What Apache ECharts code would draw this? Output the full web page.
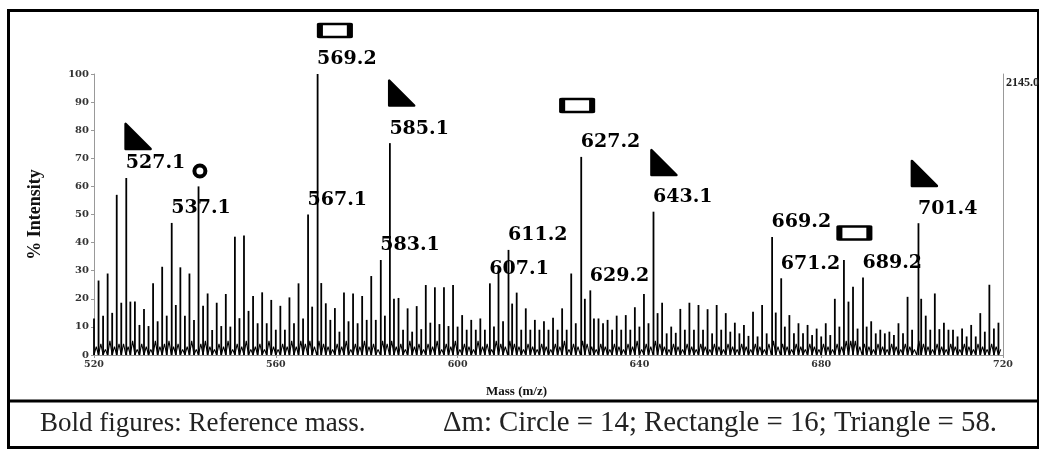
<!DOCTYPE html>
<html>
<head>
<meta charset="utf-8">
<script src="https://cdn.jsdelivr.net/npm/echarts@6/dist/echarts.min.js"></script>
<style>
  html, body { margin: 0; padding: 0; background: #fff; }
  #main { width: 1039px; height: 449px; }
</style>
</head>
<body>
<div id="main"></div>
<script>
// spectrum: one main peak per mass unit, starting at 520
const massStart = 520;
const intensity = [
  13, 26.5, 14, 29, 15, 57, 18.6, 63, 19, 19, 10.7, 16.4, 10.3, 25.5, 12, 31.4, 14, 47, 17.8, 31.2,
  14, 29, 12.5, 60, 17.5, 21.9, 8.9, 18.6, 10.3, 21.7, 10.1, 42.1, 13.1, 42.5, 15.7, 21, 11.3, 22.3, 11.3, 19.6,
  9, 17.5, 9, 20.5, 11.3, 25.5, 13, 50, 17.2, 100, 25.6, 18.4, 12.5, 16.7, 8.3, 22.2, 12, 21.9, 11.3, 21,
  12.5, 28.1, 12.5, 33.8, 14, 75.4, 20, 20.3, 9, 16.6, 8.3, 17.4, 9.2, 24.9, 11.5, 24.1, 11, 24.1, 10.3, 24.9,
  10.1, 14.2, 9, 12.5, 9, 13, 9, 25.5, 10.1, 30, 12, 37.4, 18.3, 22.2, 9, 16.6, 9, 12.5, 9, 12,
  9, 13.3, 9, 16.6, 9, 29, 11.3, 70.5, 20, 23, 13, 13, 11.3, 12.5, 9, 14, 9, 14.2, 9, 17,
  10.1, 21.7, 11.3, 51, 14.9, 18.6, 7.7, 10.1, 7.9, 16.4, 9, 18.6, 9, 17.8, 9, 16.3, 7.7, 17.8, 9, 14.9,
  8.3, 11.5, 7.7, 10.7, 6.8, 15.4, 6.6, 17.8, 7.7, 42, 15.1, 27.3, 10.1, 14.2, 7.7, 11.3, 7.7, 10.7, 7.1, 9.4,
  6.6, 11.3, 7.1, 20, 10.1, 33.8, 19, 24.3, 9.4, 27.6, 10.1, 12, 7.7, 9, 7.7, 8.3, 7.1, 11.3, 7.7, 20.7,
  9, 46.9, 20, 14, 9, 21.9, 9.2, 11.5, 9, 9, 6.6, 9.4, 6.6, 10.7, 6.6, 14.9, 8.3, 25, 9.4, 11.5
];
// small noise peaks between the main ones (at mass + 0.5)
const noise = [
  3, 4, 2, 5, 3, 4, 4, 3, 5, 2, 4, 3, 2, 5, 3, 4, 5, 3, 4, 2,
  3, 5, 2, 4, 5, 3, 2, 4, 3, 5, 2, 4, 3, 5, 2, 3, 4, 2, 5, 3,
  2, 4, 3, 5, 3, 5, 4, 5, 3, 5, 4, 3, 2, 4, 3, 5, 2, 4, 3, 5,
  3, 4, 2, 5, 4, 5, 3, 4, 2, 5, 3, 4, 2, 4, 3, 5, 2, 4, 3, 5,
  2, 4, 3, 2, 5, 3, 4, 2, 5, 4, 3, 5, 4, 3, 2, 4, 3, 2, 4, 3,
  2, 4, 3, 5, 2, 4, 3, 5, 4, 3, 2, 4, 3, 2, 4, 3, 2, 4, 3, 5,
  2, 4, 3, 5, 4, 3, 2, 4, 3, 2, 4, 3, 2, 4, 3, 2, 4, 3, 2, 4,
  3, 2, 4, 3, 2, 4, 3, 2, 4, 5, 3, 4, 3, 2, 4, 3, 2, 4, 3, 2,
  4, 3, 2, 4, 3, 5, 5, 5, 3, 4, 3, 2, 4, 3, 2, 4, 3, 2, 4, 3,
  2, 5, 4, 3, 2, 4, 3, 2, 4, 3, 2, 4, 3, 2, 4, 3, 2, 4, 3, 2
];
// reference masses printed in bold
const refMass = [527.1, 537.1, 567.1, 569.2, 583.1, 585.1, 607.1, 611.2, 627.2, 629.2, 643.1, 669.2, 671.2, 689.2, 701.4];
const refInt = [63, 47, 50, 100, 33.8, 75.4, 25.5, 37.4, 70.5, 23, 51, 42, 27.3, 27.6, 46.9];
// annotation markers (mass, % intensity)
const triMass = [529.7, 587.7, 645.4, 702.7];
const triInt = [77.8, 93.2, 68.5, 64.6];
const rectMass = [573.0, 626.3, 687.3];
const rectInt = [115.5, 88.8, 43.4];
const circleMass = [543.3];
const circleInt = [65.5];
const xTicks = [520, 560, 600, 640, 680, 720];

var sticks = [];
var floor = [];
for (var i = 0; i < intensity.length; i++) {
  var m = massStart + i;
  for (var k = 0; k < refMass.length; k++) {
    if (Math.round(refMass[k]) === m) m = refMass[k];
  }
  sticks.push([m, intensity[i]]);
  // baseline zig-zag: back to zero at each stick, small noise in between
  floor.push([massStart + i, 0]);
  floor.push([massStart + i + 0.5, noise[i]]);
}

var pairs = function (xs, ys) { return xs.map(function (x, j) { return [x, ys[j]]; }); };

var chart = echarts.init(document.getElementById('main'));
var serif = '"Liberation Serif", "Times New Roman", serif';

var option = {
  animation: false,
  backgroundColor: '#fff',
  grid: { left: 94, right: 36, top: 74, bottom: 94, containLabel: false },
  xAxis: {
    type: 'value', min: xTicks[0], max: xTicks[xTicks.length - 1], interval: 40,
    name: 'Mass (m/z)', nameLocation: 'middle', nameGap: 30,
    nameTextStyle: { fontFamily: serif, fontWeight: 'bold', fontSize: 13, color: '#111', padding: [0, 64, 0, 0] },
    axisLine: { lineStyle: { color: '#999', width: 1 } },
    axisTick: { length: 3, lineStyle: { color: '#999' } },
    axisLabel: { fontFamily: '"DejaVu Serif", serif', fontWeight: 'bold', fontSize: 9.5, color: '#333', margin: 5 },
    splitLine: { show: false }
  },
  yAxis: [{
    type: 'value', min: 0, max: 100, interval: 10,
    name: '% Intensity', nameLocation: 'middle', nameGap: 50,
    nameTextStyle: { fontFamily: serif, fontWeight: 'bold', fontSize: 18, color: '#111' },
    axisLine: { show: true, lineStyle: { color: '#999', width: 1 } },
    axisTick: { show: true, length: 3, lineStyle: { color: '#999' } },
    axisLabel: { fontFamily: '"DejaVu Serif", serif', fontWeight: 'bold', fontSize: 10, color: '#333', margin: 5 },
    splitLine: { show: false }
  }, {
    type: 'value', min: 0, max: 100, position: 'right',
    axisLine: { show: true, lineStyle: { color: '#999', width: 1 } },
    axisTick: { show: false }, axisLabel: { show: false }, splitLine: { show: false }
  }],
  series: [
    {
      name: 'floor', type: 'line', data: floor, symbol: 'none',
      lineStyle: { color: '#000', width: 1.1 }, z: 2
    },
    {
      name: 'peaks', type: 'bar', data: sticks, barWidth: 1.8,
      itemStyle: { color: '#000' }, z: 3
    },
    {
      name: 'ref', type: 'scatter', data: pairs(refMass, refInt), symbolSize: 1, clip: false,
      itemStyle: { color: 'rgba(0,0,0,0)', opacity: 1 }, z: 5,
      label: {
        show: true, position: [0, -14], align: 'left', verticalAlign: 'middle',
        formatter: function (p) { return p.value[0].toFixed(1); },
        fontFamily: '"DejaVu Serif", serif', fontWeight: 'bold', fontSize: 19, color: '#000'
      }
    },
    {
      name: 'triangle', type: 'scatter', data: pairs(triMass, triInt), clip: false,
      symbol: 'path://M0,0 L0,10 L10,10 Z', symbolSize: [25, 25], z: 4,
      itemStyle: { color: '#000', opacity: 1, borderColor: '#000', borderWidth: 2.5, borderJoin: 'round' }
    },
    {
      name: 'rectangle', type: 'scatter', data: pairs(rectMass, rectInt), clip: false,
      symbol: 'rect', symbolSize: [30, 13], z: 4,
      itemStyle: { color: '#fff', opacity: 1, borderColor: '#000', borderWidth: 4, borderJoin: 'round' }
    },
    {
      name: 'circle', type: 'scatter', data: pairs(circleMass, circleInt), clip: false,
      symbol: 'circle', symbolSize: 11, z: 4,
      itemStyle: { color: '#fff', opacity: 1, borderColor: '#000', borderWidth: 4 }
    }
  ],
  graphic: [
    { type: 'rect', shape: { x: 8.5, y: 10.5, width: 1030, height: 437 }, style: { fill: 'none', stroke: '#000', lineWidth: 3 }, silent: true },
    { type: 'line', shape: { x1: 8, y1: 401, x2: 1039, y2: 401 }, style: { stroke: '#000', lineWidth: 3 }, silent: true },
    { type: 'text', left: 1006, top: 77, style: { text: '2145.0', font: 'bold 12px ' + serif, fill: '#222' }, silent: true },
    { type: 'text', left: 40, top: 410, style: { text: 'Bold figures: Reference mass.', font: '27px ' + serif, fill: '#222' }, silent: true },
    { type: 'text', left: 443, top: 409, style: { text: '\u0394m: Circle = 14; Rectangle = 16; Triangle = 58.', font: '28.8px ' + serif, fill: '#222' }, silent: true }
  ]
};

option && chart.setOption(option);
</script>
</body>
</html>
